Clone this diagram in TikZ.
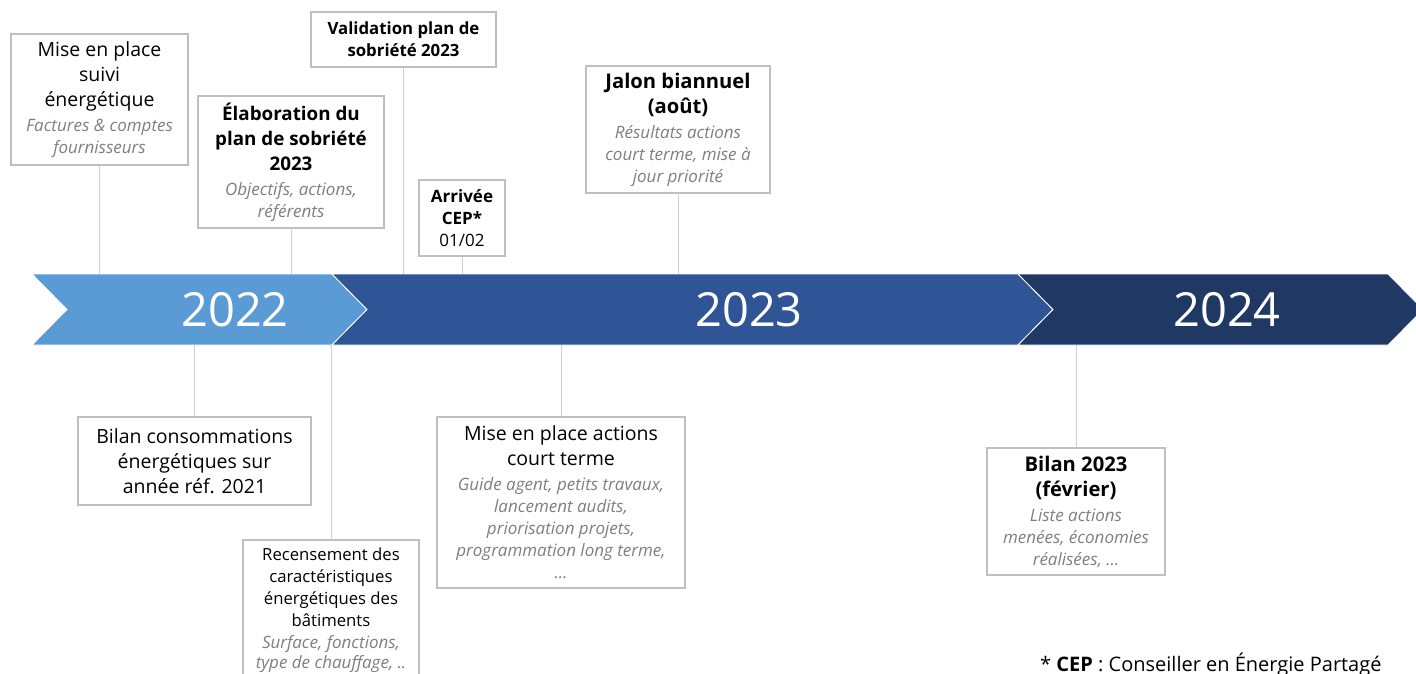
\documentclass[tikz,border=0pt]{standalone}
\usepackage{fontspec}
\setmainfont{Open Sans}
\definecolor{bleuclair}{HTML}{5B9BD5}
\definecolor{bleu}{HTML}{2F5597}
\definecolor{bleufonce}{HTML}{203864}
\definecolor{cadre}{HTML}{BFBFBF}
\definecolor{trait}{HTML}{D0D0D0}
\definecolor{gristexte}{HTML}{7F7F7F}
\tikzset{
  etape/.style={draw=cadre, line width=1.3pt, fill=white, align=center, inner sep=0pt,
    font=\fontsize{19.5}{25}\selectfont},
  repere/.style={draw=trait, line width=1pt},
  annee/.style={text=white, inner sep=0pt, font=\fontsize{47}{47}\selectfont}
}
\newcommand\detail[1]{{\normalfont\fontsize{17}{21}\selectfont\itshape\color{gristexte}#1}}

\begin{document}
\begin{tikzpicture}[x=1pt,y=-1pt]
            \useasboundingbox (0,0) rectangle (1416,673);
            \clip (0,0) rectangle (1416,673);
            % frise des annees
            \foreach \a/\b/\col in {32/332/bleuclair, 332/1018/bleu, 1018/1388/bleufonce}
                \draw[white, line width=0.8pt, fill=\col] (\a,274) -- (\b,274) -- (\b+35,309.5)
                    -- (\b,345) -- (\a,345) -- (\a+35,309.5) -- cycle;
            \foreach \yr/\x in {2022/235, 2023/749, 2024/1227}
                \node[annee] (an\yr) at (\x,310) {\yr};
            \coordinate (haut) at (0,274);
            \coordinate (bas) at (0,345);
            % etapes au-dessus
            \node[etape, minimum width=177pt, minimum height=131pt] (suivi) at (99.5,99.5)
                {Mise en place\\suivi\\énergétique\\\detail{Factures \& comptes}\\[-3pt]\detail{fournisseurs}};
            \node[etape, minimum width=186pt, minimum height=132pt, font=\bfseries\fontsize{18.8}{25}\selectfont] (elab) at (291,162)
                {Élaboration du\\plan de sobriété\\2023\\\detail{Objectifs, actions,}\\[-3pt]\detail{référents}};
            \node[etape, minimum width=185pt, minimum height=55pt, font=\bfseries\fontsize{16.8}{22}\selectfont] (valid) at (403.5,39.5)
                {Validation plan de\\sobriété 2023};
            \node[etape, minimum width=86pt, minimum height=76pt, font=\bfseries\fontsize{17}{22}\selectfont] (cep) at (462,218)
                {Arrivée\\CEP*\\{\mdseries 01/02}};
            \node[etape, minimum width=184pt, minimum height=127pt, font=\bfseries\fontsize{20.2}{25}\selectfont] (jalon) at (678,129.5)
                {Jalon biannuel\\(août)\\\detail{Résultats actions}\\[-3pt]\detail{court terme, mise à}\\[-3pt]\detail{jour priorité}};
            % etapes en dessous
            \node[etape, minimum width=233pt, minimum height=88pt] (bilan) at (194.5,461)
                {Bilan consommations\\énergétiques sur\\année réf. 2021};
            \node[etape, minimum width=176pt, minimum height=140pt, font=\fontsize{16.7}{22}\selectfont] (recens) at (331,610)
                {Recensement des\\caractéristiques\\énergétiques des\\bâtiments\\\detail{Surface, fonctions,}\\[-1.5pt]\detail{type de chauffage, ..}};
            \node[etape, minimum width=248pt, minimum height=171pt] (actions) at (561,502.5)
                {Mise en place actions\\court terme\\\detail{Guide agent, petits travaux,}\\[-3pt]\detail{lancement audits,}\\[-3pt]\detail{priorisation projets,}\\[-3pt]\detail{programmation long terme,}\\[-3pt]\detail{...}};
            \node[etape, minimum width=178pt, minimum height=127pt, font=\bfseries\fontsize{20.2}{25}\selectfont] (bilan23) at (1076,511.5)
                {Bilan 2023\\(février)\\\detail{Liste actions}\\[-3pt]\detail{menées, économies}\\[-3pt]\detail{réalisées, ...}};
            % reperes
            \foreach \n in {suivi, elab, valid, cep, jalon}
                \draw[repere] (\n.south) -- (\n.south |- haut);
            \foreach \n in {bilan, recens, actions, bilan23}
                \draw[repere] (\n.north) -- (\n.north |- bas);
            \node[anchor=base west, inner sep=0pt, font=\fontsize{20}{25}\selectfont] (note) at (1040,671)
                {* \textbf{CEP} : Conseiller en Énergie Partagé};
        \end{tikzpicture}
\end{document}
